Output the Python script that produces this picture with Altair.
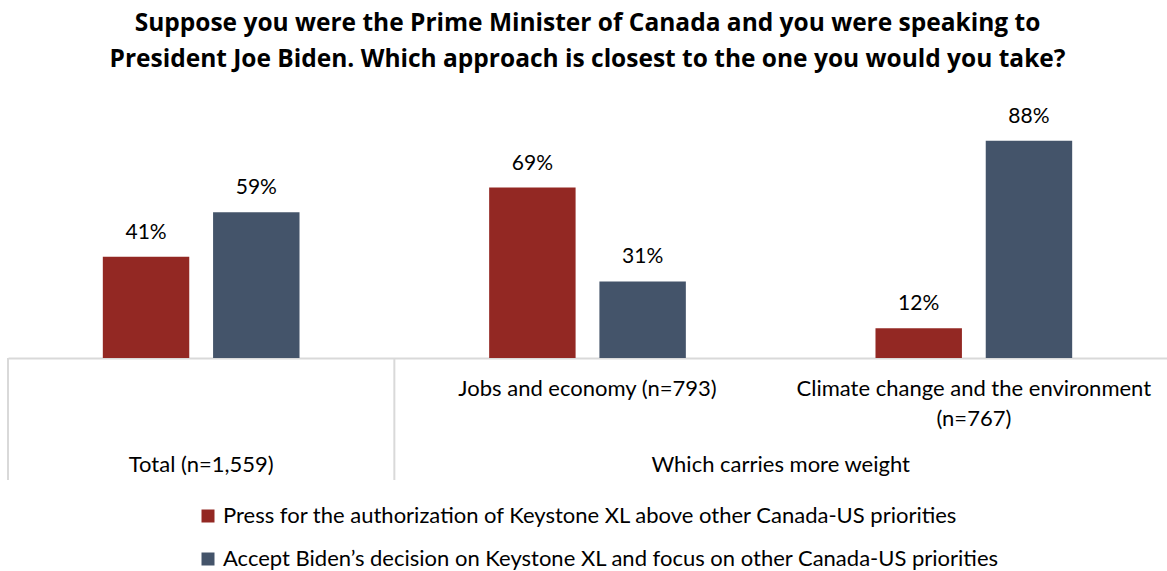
import altair as alt
import pandas as pd

# ---- data ----
categories = ["Total (n=1,559)", "Jobs and economy (n=793)", "Climate change and the environment|(n=767)"]
series = [
    "Press for the authorization of Keystone XL above other Canada-US priorities",
    "Accept Biden\u2019s decision on Keystone XL and focus on other Canada-US priorities",
]
press_values = [41, 69, 12]
accept_values = [59, 31, 88]
colors = ["#932823", "#44546A"]
group_labels = ["Total (n=1,559)", "Which carries more weight"]
title_lines = [
    "Suppose you were the Prime Minister of Canada and you were speaking to",
    "President Joe Biden. Which approach is closest to the one you would you take?",
]

rows = []
for c, p, a in zip(categories, press_values, accept_values):
    rows.append({"group": c, "series": series[0], "value": p, "label": f"{p}%"})
    rows.append({"group": c, "series": series[1], "value": a, "label": f"{a}%"})
df = pd.DataFrame(rows)

FONT = "Lato"
TFONT = "Open Sans"
W, H = 1159, 247

x_enc = alt.X(
    "group:N",
    sort=categories,
    scale=alt.Scale(paddingInner=0, paddingOuter=0),
    axis=alt.Axis(
        title=None,
        labelExpr="datum.value == '" + categories[0] + "' ? '' : split(datum.value, '|')",
        labelAngle=0,
        labelFont=FONT,
        labelFontSize=22,
        labelColor="#000000",
        labelPadding=20,
        labelLineHeight=30,
        labelLimit=0,
        labelOverlap=False,
        labelBound=False,
        ticks=False,
        domainColor="#d9d9d9",
        domainWidth=2,
        grid=False,
    ),
)
xoff = alt.XOffset("series:N", sort=series, scale=alt.Scale(paddingInner=0.216, paddingOuter=0.86))
y_enc = alt.Y("value:Q", scale=alt.Scale(domain=[0, 100]), axis=None)

base = alt.Chart(df)

bars = base.mark_bar().encode(
    x=x_enc,
    xOffset=xoff,
    y=y_enc,
    color=alt.Color(
        "series:N",
        sort=series,
        scale=alt.Scale(domain=series, range=colors),
        legend=alt.Legend(
            title=None,
            orient="none",
            legendX=189,
            legendY=394,
            direction="vertical",
            symbolType="square",
            symbolSize=169,
            symbolStrokeWidth=0,
            labelFont=FONT,
            labelFontSize=22,
            labelColor="#000000",
            labelLimit=0,
            labelOffset=4,
            rowPadding=21,
        ),
    ),
)

texts = base.mark_text(baseline="alphabetic", dy=-18, font=FONT, fontSize=21, color="#000000").encode(
    x=alt.X("group:N", sort=categories),
    xOffset=xoff,
    y=y_enc,
    text="label:N",
)

dividers_df = pd.DataFrame({"group": [categories[0], categories[1]]})
dividers = alt.Chart(dividers_df).mark_rule(color="#d9d9d9", strokeWidth=2).encode(
    x=alt.X("group:N", sort=categories, bandPosition=0),
    y=alt.value(H),
    y2=alt.value(H + 122),
)

g1 = alt.Chart(pd.DataFrame({"group": [categories[0]], "t": [group_labels[0]]})).mark_text(
    font=FONT, fontSize=22, color="#000000", baseline="middle"
).encode(x=alt.X("group:N", sort=categories, bandPosition=0.5), y=alt.value(H + 107), text="t:N")

g2 = alt.Chart(pd.DataFrame({"group": [categories[2]], "t": [group_labels[1]]})).mark_text(
    font=FONT, fontSize=22, color="#000000", baseline="middle"
).encode(x=alt.X("group:N", sort=categories, bandPosition=0), y=alt.value(H + 107), text="t:N")

chart = (
    alt.layer(bars, texts, dividers, g1, g2)
    .properties(
        width=W,
        height=H,
        background="white",
        title=alt.Title(
            title_lines,
            font=TFONT,
            fontSize=24.5,
            fontWeight="bold",
            color="#000000",
            lineHeight=36,
            anchor="middle",
            frame="group",
            offset=33,
        ),
        autosize=alt.AutoSizeParams(type="none"),
        padding={"left": 8, "top": 111, "right": 0, "bottom": 213},
    )
    .configure_view(strokeWidth=0, stroke="transparent")
)

chart.save("out.html", embed_options={"renderer": "svg", "actions": False})
